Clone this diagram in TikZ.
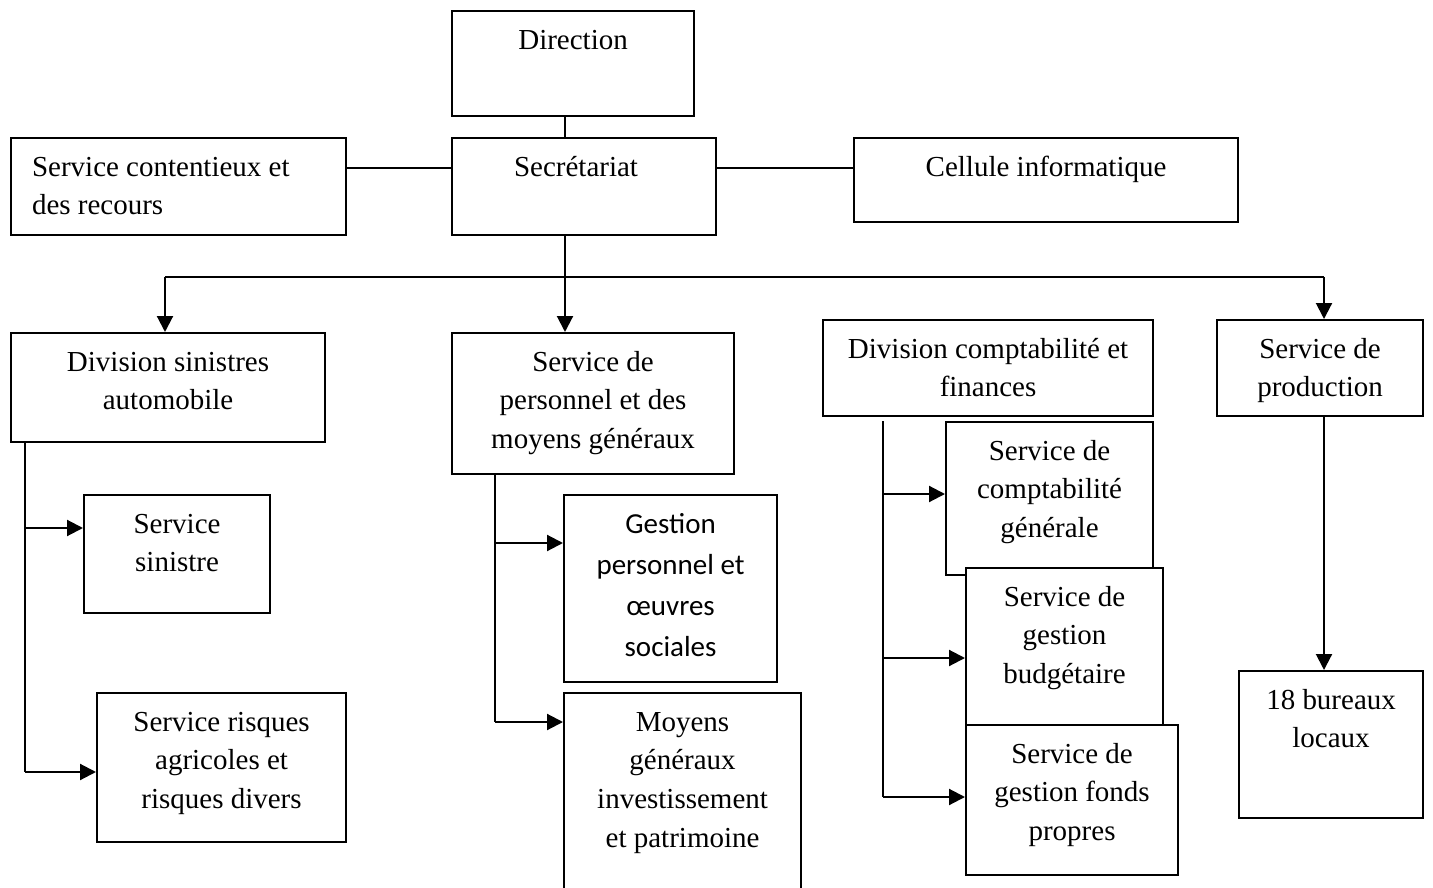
\documentclass[tikz,border=0pt]{standalone}
\usepackage{fontspec}
\setmainfont{Liberation Serif}
\newfontfamily\calibri{Carlito}
\usepackage{tikz}
\usetikzlibrary{arrows.meta,calc,positioning}

\newlength\pxu
\setlength\pxu{0.02cm}
\newcommand{\boxtext}[4][\centering]{\parbox[c][#3\pxu][t]{#2\pxu}{#1\rule{0pt}{38\pxu}#4}}

\tikzset{
  orgbox/.style={draw, line width=1.2pt, fill=white, inner sep=0pt, anchor=north west,
    font=\fontsize{16.5}{22.1}\selectfont},
  arr/.style={-{Triangle[length=0.32cm,width=0.32cm]}},
}

\begin{document}
\begin{tikzpicture}[x=0.02cm, y=-0.02cm, line width=1.2pt]
  \useasboundingbox (0,0) rectangle (1433,888);
  % top level
  \node[orgbox] (dir) at (451,10) {\boxtext{242}{105}{Direction}};
  \node[orgbox] (secr) at (451,137) {\boxtext[\centering\hspace*{-16\pxu}]{264}{97}{Secrétariat}};
  \node[orgbox] (contx) at (10,137) {\boxtext[\raggedright\leftskip=21\pxu]{335}{97}{Service contentieux et\\des recours}};
  \node[orgbox] (cell) at (853,137) {\boxtext{384}{84}{Cellule informatique}};
  % divisions
  \node[orgbox] (divSin) at (10,332) {\boxtext{314}{109}{Division sinistres\\automobile}};
  \node[orgbox] (pers) at (451,332) {\boxtext{282}{141}{Service de\\personnel et des\\moyens généraux}};
  \node[orgbox] (divCpt) at (822,319) {\boxtext{330}{96}{Division comptabilité et\\finances}};
  \node[orgbox] (prod) at (1216,319) {\boxtext{206}{96}{Service de\\production}};
  % services
  \node[orgbox] (servSin) at (83,494) {\boxtext{186}{118}{Service\\sinistre}};
  \node[orgbox] (risq) at (96,692) {\boxtext{249}{149}{Service risques\\agricoles et\\risques divers}};
  \node[orgbox, font=\calibri\fontsize{16.5}{23.5}\selectfont] (gest) at (563,494) {\boxtext{213}{187}{Gestion\\personnel et\\œuvres\\sociales}};
  \node[orgbox] (moy) at (563,692) {\boxtext{237}{198}{Moyens\\généraux\\investissement\\et patrimoine}};
  \node[orgbox] (cg) at (945,421) {\boxtext{207}{153}{Service de\\comptabilité\\générale}};
  \node[orgbox] (bud) at (965,567) {\boxtext{197}{157}{Service de\\gestion\\budgétaire}};
  \node[orgbox] (fp) at (965,724) {\boxtext{212}{150}{Service de\\gestion fonds\\propres}};
  \node[orgbox] (bur) at (1238,670) {\boxtext{184}{147}{18 bureaux\\locaux}};

  % links at the top
  \coordinate (spine) at (565,277);
  \coordinate (h) at (0,168);
  \draw (dir.south -| spine) -- (secr.north -| spine);
  \draw (contx.east |- h) -- (secr.west |- h);
  \draw (secr.east |- h) -- (cell.west |- h);

  % bus
  \coordinate (busL) at (165,277);
  \coordinate (busR) at (1324,277);
  \draw (secr.south -| spine) -- (spine);
  \draw (busL) -- (busR);
  \draw[arr] (busL) -- (busL |- divSin.north);
  \draw[arr] (spine) -- (spine |- pers.north);
  \draw[arr] (busR) -- (busR |- prod.north);

  % division sinistres
  \coordinate (sA) at (25,528);
  \coordinate (sB) at (25,772);
  \draw (sB |- divSin.south) -- (sB);
  \draw[arr] (sA) -- (sA -| servSin.west);
  \draw[arr] (sB) -- (sB -| risq.west);

  % personnel
  \coordinate (pA) at (495,543);
  \coordinate (pB) at (495,722);
  \draw (pB |- pers.south) -- (pB);
  \draw[arr] (pA) -- (pA -| gest.west);
  \draw[arr] (pB) -- (pB -| moy.west);

  % comptabilite
  \coordinate (cT) at (883,421);
  \coordinate (cA) at (883,494);
  \coordinate (cB) at (883,658);
  \coordinate (cC) at (883,797);
  \draw (cT) -- (cC);
  \draw[arr] (cA) -- (cA -| cg.west);
  \draw[arr] (cB) -- (cB -| bud.west);
  \draw[arr] (cC) -- (cC -| fp.west);

  % production
  \draw[arr] (busR |- prod.south) -- (busR |- bur.north);
\end{tikzpicture}
\end{document}
